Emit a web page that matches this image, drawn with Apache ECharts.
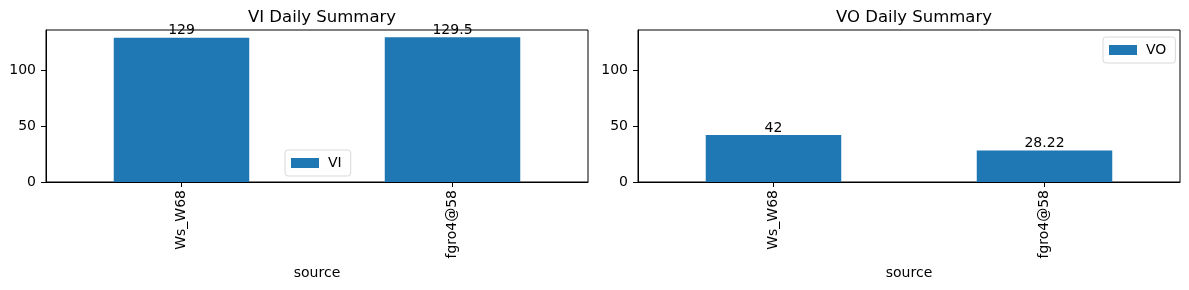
<!DOCTYPE html>
<html>
<head>
<meta charset="utf-8">
<script src="https://cdn.jsdelivr.net/npm/echarts@6/dist/echarts.min.js"></script>
<style>
html,body{margin:0;padding:0;background:#fff;}
#c{width:1189px;height:290px;}
</style>
</head>
<body>
<div id="c"></div>
<script>
var categories = ['Ws_W68', 'fgro4@58'];
var viValues = [129, 129.5];
var voValues = [42, 28.22];
var yTicks = [0, 50, 100];

var FONT = 'DejaVu Sans';
var BLUE = '#1f77b4';
var chart = echarts.init(document.getElementById('c'), null, {renderer: 'canvas'});

function xAxis(gi) {
  return {
    type: 'category', gridIndex: gi, data: categories,
    boundaryGap: true,
    name: 'source', nameLocation: 'middle', nameGap: 80,
    nameTextStyle: {fontFamily: FONT, fontSize: 14, color: '#000'},
    axisLine: {show: true, lineStyle: {color: '#000', width: 1}},
    axisTick: {show: true, alignWithLabel: true, length: 5, lineStyle: {color: '#000'}},
    axisLabel: {rotate: 90, fontFamily: FONT, fontSize: 14, color: '#000', margin: 8},
    splitLine: {show: false}
  };
}
function yAxis(gi) {
  return {
    type: 'value', gridIndex: gi, min: 0, max: 136, interval: 50,
    axisLine: {show: true, lineStyle: {color: '#000', width: 1}},
    axisTick: {show: true, length: 5, lineStyle: {color: '#000'}, customValues: yTicks},
    axisLabel: {fontFamily: FONT, fontSize: 14, color: '#000', margin: 10, customValues: yTicks},
    splitLine: {show: false}
  };
}
function bars(name, vals, gi) {
  return {
    name: name, type: 'bar', xAxisIndex: gi, yAxisIndex: gi, data: vals,
    barWidth: '50%',
    itemStyle: {color: BLUE},
    label: {show: true, position: 'top', distance: 0, color: '#000', fontFamily: FONT, fontSize: 14,
      formatter: function (p) { return String(p.value); }},
    emphasis: {disabled: true}
  };
}
var legendCommon = {
  orient: 'vertical', itemWidth: 28, itemHeight: 10, itemGap: 4,
  padding: [6, 9, 6, 6],
  borderColor: '#d9d9d9', borderWidth: 1, borderRadius: 3,
  backgroundColor: '#fff',
  textStyle: {fontFamily: FONT, fontSize: 14, color: '#000', padding: [0, 0, 0, 4]},
  icon: 'rect', selectedMode: false
};

chart.setOption({
  animation: false,
  backgroundColor: '#fff',
  title: [
    {text: 'VI Daily Summary', left: 317, top: 4, textAlign: 'center',
     textStyle: {fontFamily: FONT, fontSize: 16.5, fontWeight: 'normal', color: '#000'}},
    {text: 'VO Daily Summary', left: 909, top: 4, textAlign: 'center',
     textStyle: {fontFamily: FONT, fontSize: 16.5, fontWeight: 'normal', color: '#000'}}
  ],
  grid: [
    {left: 46, right: 601, top: 30, bottom: 108, show: true, borderColor: '#000', borderWidth: 1, backgroundColor: '#fff'},
    {left: 638, right: 9, top: 30, bottom: 108, show: true, borderColor: '#000', borderWidth: 1, backgroundColor: '#fff'}
  ],
  xAxis: [xAxis(0), xAxis(1)],
  yAxis: [yAxis(0), yAxis(1)],
  legend: [
    Object.assign({}, legendCommon, {data: ['VI'], left: 285, top: 150}),
    Object.assign({}, legendCommon, {data: ['VO'], left: 1103, top: 37})
  ],
  series: [bars('VI', viValues, 0), bars('VO', voValues, 1)]
});
</script>
</body>
</html>
